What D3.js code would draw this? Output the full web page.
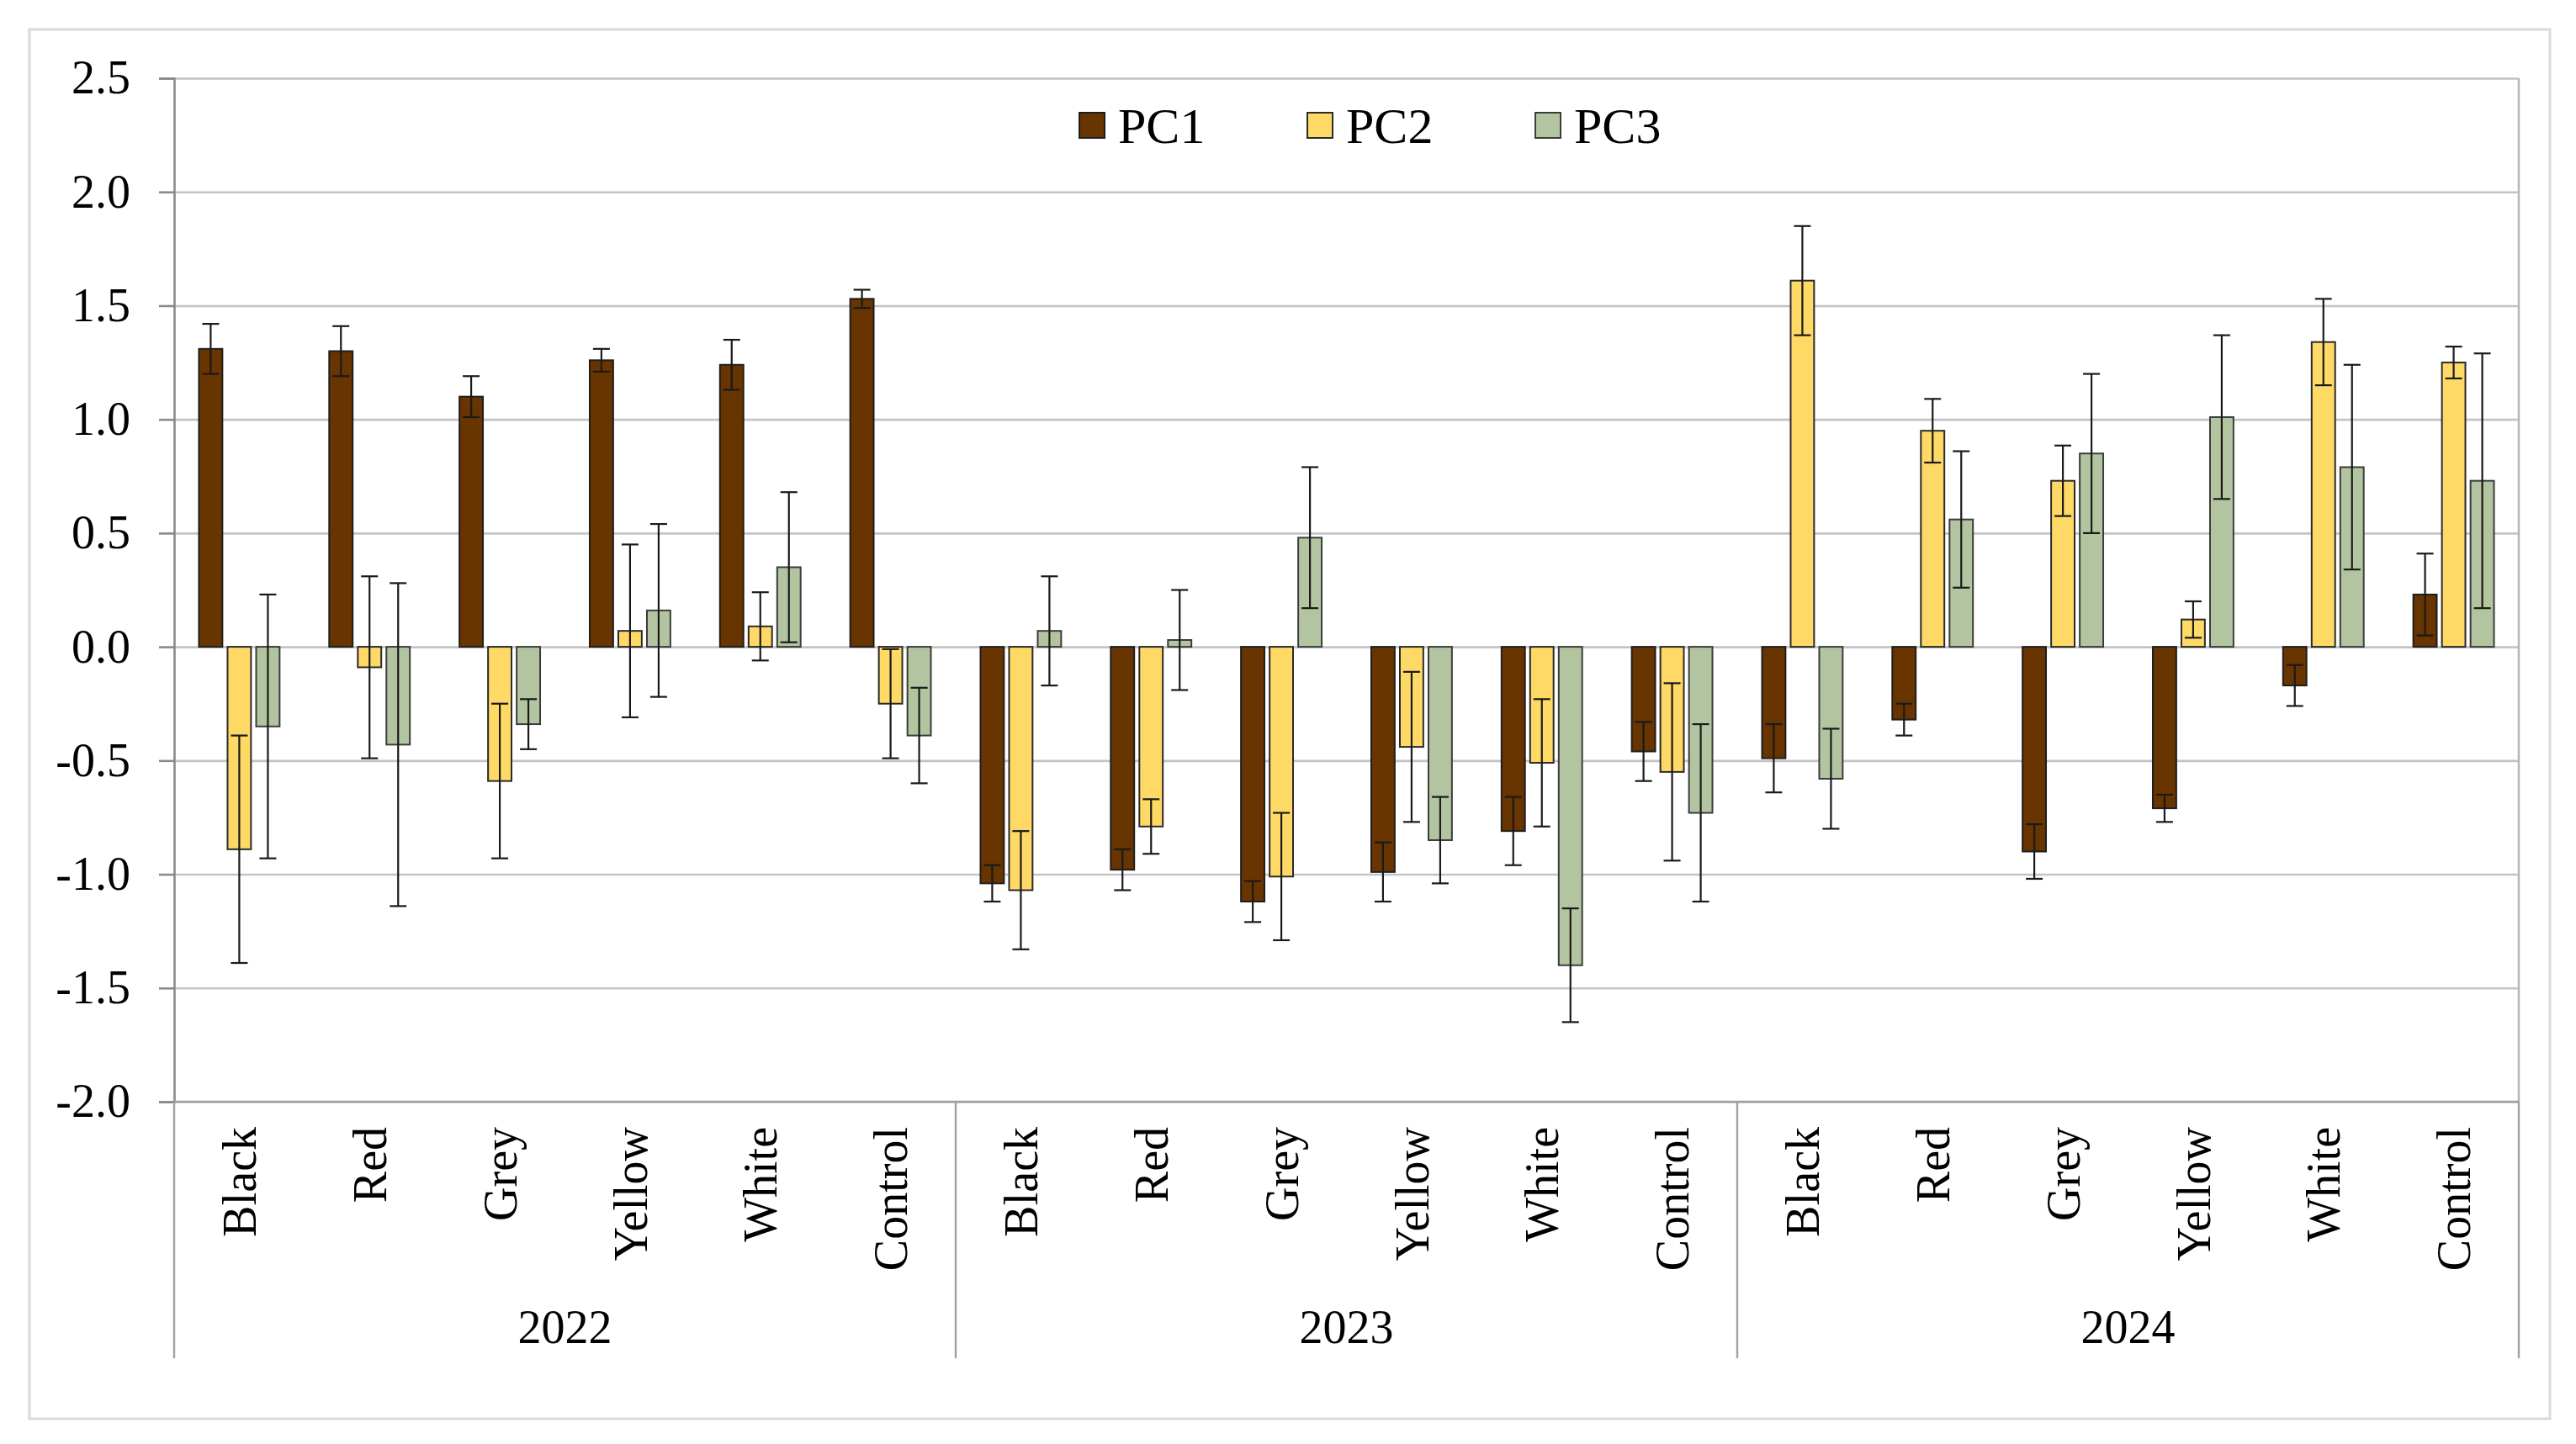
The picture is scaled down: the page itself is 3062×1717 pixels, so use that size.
<!DOCTYPE html>
<html>
<head>
<meta charset="utf-8">
<script src="https://cdn.jsdelivr.net/npm/d3@7"></script>
<style>
  body { margin: 0; background: #fff; }
  text { font-family: "Liberation Serif", "Times New Roman", serif; fill: #000; }
</style>
</head>
<body>
<div id="chartContainer"></div>
<script>
// data (mean +/- error per treatment)
var years = ["2022", "2023", "2024"];
var treatments = ["Black", "Red", "Grey", "Yellow", "White", "Control"];
var seriesNames = ["PC1", "PC2", "PC3"];
var seriesColors = ["#683400", "#ffd966", "#b3c5a0"];
var seriesStroke = ["#1e1e1e", "#2a2a2a", "#3c3c3c"];
var yTicks = [-2.0, -1.5, -1.0, -0.5, 0.0, 0.5, 1.0, 1.5, 2.0, 2.5];

var pc1    = [1.31, 1.30, 1.10, 1.26, 1.24, 1.53, -1.04, -0.98, -1.12, -0.99, -0.81, -0.46, -0.49, -0.32, -0.90, -0.71, -0.17, 0.23];
var pc1Err = [0.11, 0.11, 0.09, 0.05, 0.11, 0.04, 0.08, 0.09, 0.09, 0.13, 0.15, 0.13, 0.15, 0.07, 0.12, 0.06, 0.09, 0.18];
var pc2    = [-0.89, -0.09, -0.59, 0.07, 0.09, -0.25, -1.07, -0.79, -1.01, -0.44, -0.51, -0.55, 1.61, 0.95, 0.73, 0.12, 1.34, 1.25];
var pc2Err = [0.50, 0.40, 0.34, 0.38, 0.15, 0.24, 0.26, 0.12, 0.28, 0.33, 0.28, 0.39, 0.24, 0.14, 0.155, 0.08, 0.19, 0.07];
var pc3    = [-0.35, -0.43, -0.34, 0.16, 0.35, -0.39, 0.07, 0.03, 0.48, -0.85, -1.40, -0.73, -0.58, 0.56, 0.85, 1.01, 0.79, 0.73];
var pc3Err = [0.58, 0.71, 0.11, 0.38, 0.33, 0.21, 0.24, 0.22, 0.31, 0.19, 0.25, 0.39, 0.22, 0.30, 0.35, 0.36, 0.45, 0.56];

var width = 3062, height = 1717;
var bounds = { x: 207, y: 93, width: 2787, height: 1217 };

var values = [pc1, pc2, pc3], errors = [pc1Err, pc2Err, pc3Err];
var keys = [], rows = [];
years.forEach(function (yr, gi) {
  treatments.forEach(function (t, ti) {
    var idx = gi * treatments.length + ti;
    keys.push(yr + "|" + t);
    seriesNames.forEach(function (s, si) {
      rows.push({ key: yr + "|" + t, series: s, si: si, value: values[si][idx], err: errors[si][idx] });
    });
  });
});

var svg = d3.select("#chartContainer").append("svg")
  .attr("width", width).attr("height", height);

// outer chart border
svg.append("rect")
  .attr("x", 35).attr("y", 35).attr("width", 2996).attr("height", 1652)
  .attr("fill", "#fff").attr("stroke", "#d9d9d9").attr("stroke-width", 3);

var x0 = d3.scaleBand().domain(keys).range([bounds.x, bounds.x + bounds.width]);
var bw = x0.bandwidth();
var x1 = d3.scaleBand().domain(seriesNames)
  .range([bw / 2 - 51, bw / 2 + 51]).paddingInner(0.18).paddingOuter(0.09);
var y = d3.scaleLinear().domain([-2, 2.5]).range([bounds.y + bounds.height, bounds.y]);
var xg = d3.scaleBand().domain(years).range([bounds.x, bounds.x + bounds.width]);

// gridlines
svg.append("g")
  .attr("transform", "translate(" + bounds.x + ",0)")
  .call(d3.axisLeft(y).tickValues(yTicks).tickSize(-bounds.width).tickFormat(""))
  .call(function (g) {
    g.select(".domain").remove();
    g.selectAll("line").attr("stroke", "#c4c4c4").attr("stroke-width", 2.6);
  });

// plot frame (right side)
svg.append("line")
  .attr("x1", bounds.x + bounds.width).attr("x2", bounds.x + bounds.width)
  .attr("y1", bounds.y).attr("y2", bounds.y + bounds.height)
  .attr("stroke", "#b8b8b8").attr("stroke-width", 2.6);

// y axis
svg.append("g")
  .attr("transform", "translate(" + bounds.x + ",0)")
  .call(d3.axisLeft(y).tickValues(yTicks).tickSize(18).tickPadding(34)
    .tickFormat(function (d) { return d.toFixed(1); }))
  .call(function (g) {
    g.select(".domain").attr("stroke", "#8a8a8a").attr("stroke-width", 2.6);
    g.selectAll("line").attr("stroke", "#8a8a8a").attr("stroke-width", 2.6);
    g.selectAll("text").style("font-family", "Liberation Serif").style("font-size", "56px").attr("fill", "#000");
  });

// bars
svg.append("g").selectAll("rect")
  .data(rows).enter().append("rect")
  .attr("x", function (d) { return x0(d.key) + x1(d.series); })
  .attr("width", x1.bandwidth())
  .attr("y", function (d) { return y(Math.max(0, d.value)); })
  .attr("height", function (d) { return Math.abs(y(d.value) - y(0)); })
  .attr("fill", function (d) { return seriesColors[d.si]; })
  .attr("stroke", function (d) { return seriesStroke[d.si]; })
  .attr("stroke-width", 2);

// error bars
var eb = svg.append("g").selectAll("g")
  .data(rows).enter().append("g")
  .attr("stroke", "#1a1a1a").attr("stroke-width", 2.2);
function cx(d) { return x0(d.key) + x1(d.series) + x1.bandwidth() / 2; }
eb.append("line")
  .attr("x1", cx).attr("x2", cx)
  .attr("y1", function (d) { return y(d.value + d.err); })
  .attr("y2", function (d) { return y(d.value - d.err); });
[1, -1].forEach(function (sgn) {
  eb.append("line")
    .attr("x1", function (d) { return cx(d) - 10; })
    .attr("x2", function (d) { return cx(d) + 10; })
    .attr("y1", function (d) { return y(d.value + sgn * d.err); })
    .attr("y2", function (d) { return y(d.value + sgn * d.err); });
});

// bottom axis line
svg.append("line")
  .attr("x1", bounds.x).attr("x2", bounds.x + bounds.width)
  .attr("y1", y(-2)).attr("y2", y(-2))
  .attr("stroke", "#a0a0a0").attr("stroke-width", 2.6);

// group separators below axis
var seps = [bounds.x].concat(years.map(function (yr) { return xg(yr) + xg.bandwidth(); }));
svg.append("g").selectAll("line")
  .data(seps).enter().append("line")
  .attr("x1", function (d) { return d; }).attr("x2", function (d) { return d; })
  .attr("y1", y(-2)).attr("y2", 1615)
  .attr("stroke", "#a0a0a0").attr("stroke-width", 2.4);

// category labels (rotated)
svg.append("g").selectAll("text")
  .data(keys).enter().append("text")
  .attr("transform", function (d) { return "translate(" + (x0(d) + bw / 2) + ",1340) rotate(-90)"; })
  .attr("text-anchor", "end")
  .attr("dy", "0.35em")
  .style("font-size", "56px")
  .text(function (d) { return d.split("|")[1]; });

// year labels
svg.append("g").selectAll("text")
  .data(years).enter().append("text")
  .attr("x", function (d) { return xg(d) + xg.bandwidth() / 2; })
  .attr("y", 1597)
  .attr("text-anchor", "middle")
  .style("font-size", "56px")
  .text(function (d) { return d; });

// legend
var leg = svg.append("g").selectAll("g")
  .data(seriesNames).enter().append("g")
  .attr("transform", function (d, i) { return "translate(" + (1283 + i * 271) + ",134)"; });
leg.append("rect")
  .attr("width", 30).attr("height", 30)
  .attr("fill", function (d, i) { return seriesColors[i]; })
  .attr("stroke", function (d, i) { return seriesStroke[i]; })
  .attr("stroke-width", 2);
leg.append("text")
  .attr("x", 46).attr("y", 36)
  .style("font-size", "60px")
  .text(function (d) { return d; });
</script>
</body>
</html>
